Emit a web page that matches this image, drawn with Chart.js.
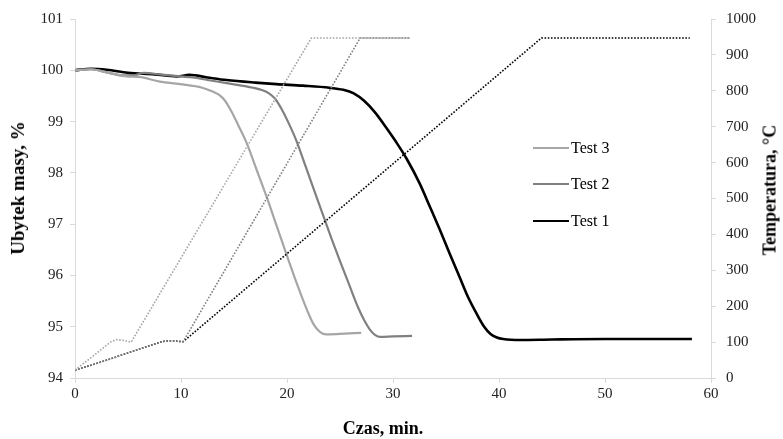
<!DOCTYPE html>
<html>
<head>
<meta charset="utf-8">
<script src="https://cdn.jsdelivr.net/npm/chart.js@4.4.1/dist/chart.umd.min.js"></script>
<style>
  html, body { margin: 0; padding: 0; background: #fff; }
  #wrap { position: relative; width: 783px; height: 439px; }
  .legend { position: absolute; left: 533px; font: 16px "Liberation Serif", serif; color: #000; display: flex; align-items: center; }
  .legend span.line { display: inline-block; width: 36px; height: 0; border-top-style: solid; margin-right: 2px; }
  .title { position: absolute; font: bold 18px "Liberation Serif", serif; color: #000; white-space: nowrap; transform: translate(-50%, -50%); }
  .title.rot { transform: translate(-50%, -50%) rotate(-90deg); }
</style>
</head>
<body>
<div id="wrap">
  <canvas id="chart" width="783" height="439"></canvas>
  <div class="legend" style="top:139px"><span class="line" style="border-top-width:2px;border-top-color:#a6a6a6"></span>Test 3</div>
  <div class="legend" style="top:175px"><span class="line" style="border-top-width:2px;border-top-color:#808080"></span>Test 2</div>
  <div class="legend" style="top:212px"><span class="line" style="border-top-width:2.5px;border-top-color:#000"></span>Test 1</div>
  <div class="title rot" style="left:18px;top:188px;font-size:19px">Ubytek masy, %</div>
  <div class="title rot" style="left:770px;top:190px">Temperatura, °C</div>
  <div class="title" style="left:383px;top:428px">Czas, min.</div>
</div>
<script>
// Mass loss (%) vs time (min)
const test1Time = [0, 1.5, 3, 5, 7.5, 9.6, 10.8, 12.5, 14.3, 17, 19, 21.5, 24, 25.3, 26.3, 27.3, 28.3, 29.3, 30.3, 31.3, 32.5, 33.5, 34.4, 35.4, 36.3, 37.1, 37.9, 38.6, 39.2, 39.8, 40.4, 42, 45, 50, 55, 58.2];
const test1Mass = [100.0, 100.03, 100.01, 99.95, 99.92, 99.88, 99.91, 99.86, 99.81, 99.76, 99.73, 99.7, 99.66, 99.62, 99.55, 99.4, 99.18, 98.9, 98.6, 98.27, 97.8, 97.33, 96.9, 96.4, 95.96, 95.57, 95.25, 95.0, 94.86, 94.79, 94.76, 94.74, 94.75, 94.76, 94.76, 94.76];

const test2Time = [0, 1.5, 3, 4.5, 5.5, 6.5, 8, 10, 11.1, 12.5, 14.3, 16.8, 17.7, 18.3, 18.9, 19.5, 20.2, 20.9, 21.8, 22.8, 23.5, 24.2, 25, 25.9, 26.7, 27.3, 27.8, 28.3, 28.8, 30, 31.8];
const test2Mass = [100.0, 100.02, 99.96, 99.9, 99.9, 99.95, 99.92, 99.88, 99.86, 99.81, 99.75, 99.66, 99.61, 99.55, 99.44, 99.24, 98.95, 98.62, 98.1, 97.52, 97.12, 96.72, 96.28, 95.8, 95.38, 95.12, 94.95, 94.84, 94.8, 94.81, 94.82];

const test3Time = [0, 1.5, 3, 4.9, 6, 8, 9.9, 12, 13.05, 13.6, 14.1, 14.7, 15.4, 16.2, 17.1, 18.1, 19, 20, 21, 21.9, 22.5, 23.1, 23.7, 25, 27];
const test3Mass = [100.0, 100.02, 99.96, 99.88, 99.87, 99.78, 99.73, 99.66, 99.58, 99.52, 99.42, 99.22, 98.93, 98.58, 98.08, 97.52, 96.98, 96.38, 95.8, 95.32, 95.05, 94.9, 94.85, 94.86, 94.88];

// Temperature (°C) vs time (min)
const temp1Time = [0, 2, 4, 6, 8.3, 9.2, 10.2, 44, 58];
const temp1Value = [22, 40, 60, 80, 102, 104, 101, 947, 947];

const temp2Time = [0, 2, 4, 6, 8.3, 9.2, 10.2, 26.9, 31.6];
const temp2Value = [22, 40, 60, 80, 102, 104, 101, 947, 947];

const temp3Time = [0, 1, 2, 3, 3.4, 3.9, 4.5, 5.3, 22.3, 31.6];
const temp3Value = [22, 45, 68, 92, 101, 107, 105, 100, 947, 947];

const xTicks = [0, 10, 20, 30, 40, 50, 60];

function toPoints(xs, ys) {
  return xs.map((x, i) => ({ x: x, y: ys[i] }));
}

const serif = "'Liberation Serif', 'Times New Roman', serif";
const axisColor = "#d9d9d9";

function massSet(label, xs, ys, color, width) {
  return {
    label: label,
    data: toPoints(xs, ys),
    yAxisID: "y",
    borderColor: color,
    borderWidth: width,
    pointRadius: 0,
    cubicInterpolationMode: "monotone",
    fill: false,
  };
}

function tempSet(label, xs, ys, color) {
  return {
    label: label,
    data: toPoints(xs, ys),
    yAxisID: "y2",
    borderColor: color,
    borderWidth: 1.6,
    borderDash: [1.6, 1.6],
    pointRadius: 0,
    tension: 0,
    fill: false,
  };
}

new Chart(document.getElementById("chart"), {
  type: "line",
  data: {
    datasets: [
      tempSet("Temp 3", temp3Time, temp3Value, "#a6a6a6"),
      tempSet("Temp 2", temp2Time, temp2Value, "#7f7f7f"),
      tempSet("Temp 1", temp1Time, temp1Value, "#000000"),
      massSet("Test 3", test3Time, test3Mass, "#a6a6a6", 2.2),
      massSet("Test 2", test2Time, test2Mass, "#808080", 2.2),
      massSet("Test 1", test1Time, test1Mass, "#000000", 2.6),
    ],
  },
  options: {
    responsive: false,
    animation: false,
    layout: { padding: { top: 17, left: 0, right: 0, bottom: 0 } },
    plugins: {
      legend: { display: false },
      tooltip: { enabled: false },
    },
    scales: {
      x: {
        type: "linear",
        min: 0,
        max: 60,
        afterBuildTicks: (axis) => {
          axis.ticks = xTicks.map((v) => ({ value: v }));
        },
        afterFit: (axis) => { axis.height = 61; },
        border: { color: axisColor, width: 1 },
        grid: { drawOnChartArea: false, color: axisColor, tickLength: 5 },
        ticks: { color: "#222", font: { family: serif, size: 15 }, padding: 2, maxRotation: 0 },
      },
      y: {
        position: "left",
        min: 94,
        max: 101,
        ticks: { stepSize: 1, color: "#222", font: { family: serif, size: 15 }, padding: 7 },
        afterFit: (axis) => { axis.width = 75; },
        border: { color: axisColor, width: 1 },
        grid: { drawOnChartArea: false, color: axisColor, tickLength: 5 },
      },
      y2: {
        position: "right",
        min: 0,
        max: 1000,
        ticks: {
          stepSize: 100,
          color: "#222",
          font: { family: serif, size: 15 },
          padding: 10,
          callback: (v) => String(v),
        },
        afterFit: (axis) => { axis.width = 72; },
        border: { color: axisColor, width: 1 },
        grid: { drawOnChartArea: false, color: axisColor, tickLength: 5 },
      },
    },
  },
});
</script>
</body>
</html>
